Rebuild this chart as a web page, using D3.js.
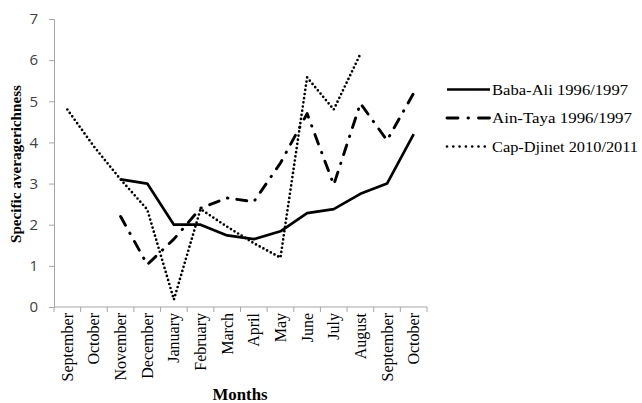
<!DOCTYPE html>
<html>
<head>
    <meta charset="utf-8">
    <script src="https://cdn.jsdelivr.net/npm/d3@7"></script>
    <style>
        body { margin: 0; background: #fff; }
    </style>
</head>
<body>
    <svg width="642" height="403" id="mainsvg"></svg>
    <script>
        // data
        const months = ['September', 'October', 'November', 'December', 'January', 'February', 'March',
            'April', 'May', 'June', 'July', 'August', 'September', 'October'];
        const babaAli = [null, null, 3.1, 3.0, 2.0, 2.0, 1.74, 1.65, 1.84, 2.28, 2.38, 2.75, 3.0, 4.2];
        const ainTaya = [null, null, 2.2, 1.03, 1.65, 2.4, 2.65, 2.56, 3.5, 4.7, 2.97, 4.95, 4.05, 5.2];
        const capDjinet = [4.8, 3.9, 3.1, 2.37, 0.18, 2.38, 1.95, 1.55, 1.2, 5.58, 4.8, 6.15, null, null];
        const yTicks = [0, 1, 2, 3, 4, 5, 6, 7];

        const series = [
            { name: 'Baba-Ali 1996/1997', values: babaAli, dash: null, legDash: null, width: 2.7, cap: 'butt', len: 136 },
            { name: 'Ain-Taya 1996/1997', values: ainTaya, dash: '10,9,0.5,9', legDash: '11,10,0.5,10', width: 2.9, cap: 'round', len: 140 },
            { name: 'Cap-Djinet 2010/2011', values: capDjinet, dash: '0,4.2', legDash: '0,6.3', width: 2.7, cap: 'round', len: 146 }
        ];

        const svg = d3.select('svg');
        const plotL = 54, plotR = 427, plotT = 19, plotB = 307;

        const x = d3.scaleBand().domain(d3.range(months.length)).range([plotL, plotR]);
        const y = d3.scaleLinear().domain([0, 7]).range([plotB, plotT]);

        const axisColor = '#a6a6a6';
        const serif = '"Liberation Serif", "Times New Roman", serif';

        // y axis
        const yAxis = svg.append('g').attr('transform', `translate(${plotL},0)`)
            .call(d3.axisLeft(y).tickValues(yTicks).tickFormat(d3.format('d')).tickSize(5).tickPadding(11));
        yAxis.select('.domain').attr('stroke', axisColor);
        yAxis.selectAll('.tick line').attr('stroke', axisColor);
        yAxis.selectAll('.tick text')
            .attr('font-family', '"Open Sans", "Liberation Sans", sans-serif')
            .attr('font-size', 15).attr('fill', '#404040');

        // x axis line + boundary ticks
        const xg = svg.append('g');
        xg.append('line').attr('x1', plotL).attr('x2', plotR).attr('y1', plotB).attr('y2', plotB)
            .attr('stroke', axisColor);
        xg.selectAll('line.tk').data(d3.range(months.length + 1)).join('line')
            .attr('class', 'tk')
            .attr('x1', i => plotL + i * x.step()).attr('x2', i => plotL + i * x.step())
            .attr('y1', plotB).attr('y2', plotB + 5)
            .attr('stroke', axisColor);
        xg.selectAll('text').data(months).join('text')
            .attr('transform', (d, i) => `translate(${x(i) + x.bandwidth() / 2 + 5.5},${plotB + 6}) rotate(-90)`)
            .attr('text-anchor', 'end')
            .attr('font-family', serif)
            .attr('font-size', 16).attr('fill', '#000')
            .text(d => d);

        // axis titles
        svg.append('text')
            .attr('x', 240).attr('y', 400)
            .attr('text-anchor', 'middle')
            .attr('font-family', serif)
            .attr('font-weight', 'bold').attr('font-size', 16.5)
            .attr('textLength', 55).attr('lengthAdjust', 'spacingAndGlyphs')
            .text('Months');
        svg.append('text')
            .attr('transform', 'translate(21,164) rotate(-90)')
            .attr('text-anchor', 'middle')
            .attr('font-family', serif)
            .attr('font-weight', 'bold').attr('font-size', 15)
            .attr('textLength', 158).attr('lengthAdjust', 'spacingAndGlyphs')
            .text('Specific averagerichness');

        // lines
        const line = d3.line()
            .defined(d => d != null)
            .x((d, i) => x(i) + x.bandwidth() / 2)
            .y(d => y(d));

        svg.selectAll('path.series').data(series).join('path')
            .attr('class', 'series')
            .attr('d', d => line(d.values))
            .attr('fill', 'none')
            .attr('stroke', '#000')
            .attr('stroke-width', d => d.width)
            .attr('stroke-linecap', d => d.cap)
            .attr('stroke-linejoin', 'round')
            .attr('stroke-dasharray', d => d.dash);

        // legend
        const legend = svg.append('g').attr('transform', 'translate(447,89.5)');
        const item = legend.selectAll('g').data(series).join('g')
            .attr('transform', (d, i) => `translate(0,${i * 28.5})`);
        item.append('line')
            .attr('x1', 0).attr('x2', 43).attr('y1', 0).attr('y2', 0)
            .attr('stroke', '#000')
            .attr('stroke-width', d => d.width)
            .attr('stroke-linecap', d => d.cap)
            .attr('stroke-dasharray', d => d.legDash);
        item.append('text')
            .attr('x', 45).attr('y', 5)
            .attr('font-family', serif)
            .attr('font-size', 15)
            .attr('textLength', d => d.len).attr('lengthAdjust', 'spacingAndGlyphs')
            .text(d => d.name);
    </script>
</body>
</html>
